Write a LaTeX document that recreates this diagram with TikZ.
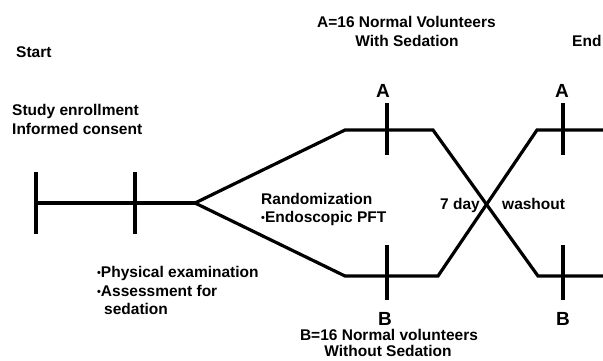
\documentclass[tikz,border=0pt]{standalone}
\usepackage{fontspec}
\setmainfont{Liberation Sans}
\newcommand{\dotb}{\raisebox{0.05ex}{\scalebox{0.7}{\textbullet}}}
\tikzset{
  track/.style={line width=3.2pt},
  tick/.style={line width=3.2pt},
  lbl/.style={font=\fontsize{15.5}{19}\selectfont\bfseries, inner sep=0pt, anchor=base west},
  mid/.style={lbl, anchor=base},
  arm/.style={font=\fontsize{19}{19}\selectfont\bfseries, inner sep=0pt, anchor=base}
}
\begin{document}
\begin{tikzpicture}[x=1pt,y=-1pt]
		\useasboundingbox[fill=white] (0,0) rectangle (603,360);
		%timeline points
		\coordinate (s0) at (36,203);
		\coordinate (s1) at (135,203);
		\coordinate (fork) at (195,203);
		\coordinate (aup) at (345,130);
		\coordinate (aend) at (433,130);
		\coordinate (bup) at (345,276);
		\coordinate (bend) at (438,276);
		\coordinate (a2) at (537,130);
		\coordinate (b2) at (538,276);
		\coordinate (aR) at (603,130);
		\coordinate (bR) at (603,276);

		\draw[track] (s0) -- (s1) -- (fork);
		\draw[track] (fork) -- (aup) -- (aend) -- (b2) -- (bR);
		\draw[track] (fork) -- (bup) -- (bend) -- (a2) -- (aR);

		%ticks
		\foreach \x in {36, 135}{
			\draw[tick] (\x,172) -- (\x,234);
		}
		\foreach \x in {387, 563}{
			\draw[tick] (\x,103) -- (\x,155);
			\draw[tick] (\x,245) -- (\x,300);
		}

		%labels
		\node[lbl] (start) at (16,57) {Start};
		\node[lbl] (enrol) at (12,115) {Study enrollment};
		\node[lbl] (consent) at (12,134) {Informed consent};
		\node[lbl] (groupA) at (317,27) {A=16 Normal Volunteers};
		\node[mid] (sedA) at (407,46) {With Sedation};
		\node[lbl] (finish) at (572,46) {End};
		\node[arm] (armA1) at (383,97) {A};
		\node[arm] (armA2) at (562,97) {A};
		\node[arm] (armB1) at (385,325) {B};
		\node[arm] (armB2) at (563,325) {B};
		\node[lbl] (rand) at (261,204) {Randomization};
		\node[lbl] (endo) at (261,222) {\dotb Endoscopic PFT};
		\node[lbl] (days) at (440,209) {7 day};
		\node[lbl] (wash) at (502,209) {washout};
		\node[lbl] (phys) at (97,277) {\dotb Physical examination};
		\node[lbl] (assess) at (97,296) {\dotb Assessment for};
		\node[lbl] (sedat) at (104,314) {sedation};
		\node[mid] (groupB) at (389,340) {B=16 Normal volunteers};
		\node[mid] (sedB) at (388,356) {Without Sedation};
\end{tikzpicture}
\end{document}
